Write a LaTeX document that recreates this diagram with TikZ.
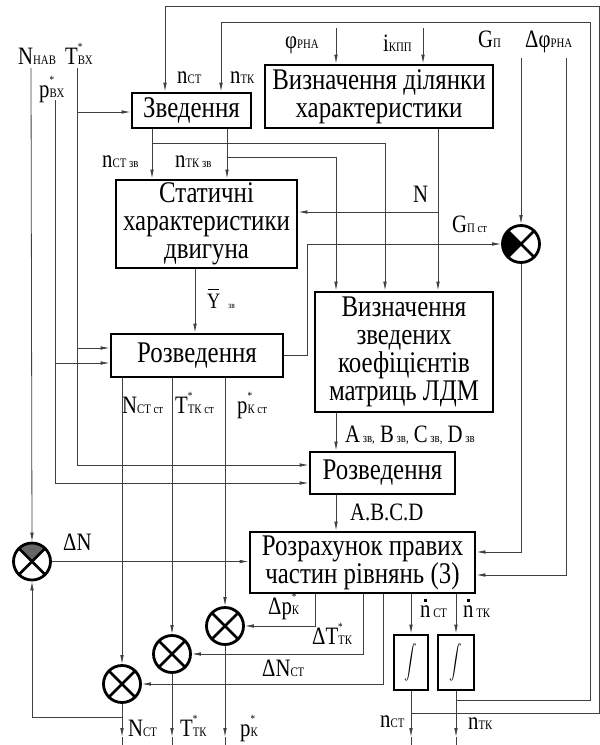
\documentclass[tikz,border=0pt]{standalone}
\usepackage{fontspec}
\setmainfont[FakeStretch=0.83]{Liberation Serif}
\usetikzlibrary{arrows.meta}
\newcommand{\boxfont}{\fontsize{30}{28}\selectfont}
\newcommand{\labfont}{\fontsize{25}{25}\selectfont}
\newcommand{\lsub}[1]{{\fontsize{13}{13}\selectfont#1}}
\newcommand{\lsubst}[1]{\rlap{\raisebox{14pt}{\fontsize{11}{11}\selectfont*}}\lsub{#1}}
\newcommand{\ndot}{\ooalign{n\cr\hidewidth\rule[0.62em]{2.4pt}{2.4pt}\hidewidth\cr}}
\newcommand{\Ybar}{\ooalign{Y\cr\hidewidth\rule[0.8em]{0.5em}{0.05em}\hidewidth\cr}}
\begin{document}
\begin{tikzpicture}[x=1pt,y=-1pt,
  ln/.style={draw=black!75, line width=0.8pt},
  arr/.style={ln,-{Latex[length=9pt,width=3.6pt]}},
  box/.style={draw, line width=2.8pt, align=center, inner sep=0pt, font=\boxfont},
  summ/.style={circle, draw, line width=2.8pt, minimum size=37pt, inner sep=0pt,
    path picture={\draw[line width=2.6pt]
      (path picture bounding box.north west)--(path picture bounding box.south east)
      (path picture bounding box.north east)--(path picture bounding box.south west);}},
  summL/.style={circle, draw, line width=2.8pt, minimum size=37pt, inner sep=0pt,
    path picture={\fill[black] (path picture bounding box.center)--(path picture bounding box.north west)--(path picture bounding box.south west)--cycle;
      \draw[line width=2.6pt]
      (path picture bounding box.north west)--(path picture bounding box.south east)
      (path picture bounding box.north east)--(path picture bounding box.south west);}},
  summT/.style={circle, draw, line width=2.8pt, minimum size=37pt, inner sep=0pt,
    path picture={\fill[black!60] (path picture bounding box.center)--(path picture bounding box.north west)--(path picture bounding box.north east)--cycle;
      \draw[line width=2.6pt]
      (path picture bounding box.north west)--(path picture bounding box.south east)
      (path picture bounding box.north east)--(path picture bounding box.south west);}},
  lab/.style={anchor=base west, inner sep=0pt, font=\labfont},
  intg/.style={box, minimum height=55pt, font=\normalsize}
]
\fill[white] (0,0) rectangle (600,745);
\useasboundingbox (0,0) rectangle (600,745);

% boxes
\node[box, minimum width=119pt, minimum height=35pt] (zv) at (191.5,110.5) {Зведення};
\node[box, minimum width=228pt, minimum height=63pt] (vd) at (379,96.5) {Визначення ділянки\\характеристики};
\node[box, minimum width=181pt, minimum height=88pt] (st) at (206.5,224) {Статичні\\характеристики\\двигуна};
\node[box, minimum width=172pt, minimum height=43pt] (rz1) at (197,355.5) {Розведення};
\node[box, minimum width=178pt, minimum height=120pt] (ldm) at (404,352) {Визначення\\зведених\\коефіцієнтів\\матриць ЛДМ};
\node[box, minimum width=145pt, minimum height=42pt] (rz2) at (382.5,473) {Розведення};
\node[box, minimum width=225pt, minimum height=61pt] (rr) at (362.5,562.5) {Розрахунок правих\\частин рівнянь (3)};
\node[intg, minimum width=34pt] (i1) at (411,662.5) {\scalebox{1.25}[1.7]{$\displaystyle\int$}};
\node[intg, minimum width=36pt] (i2) at (456,662.5) {\scalebox{1.25}[1.7]{$\displaystyle\int$}};

% summators
\node[summT] (sN) at (32,561.5) {};
\node[summL] (sG) at (521,244) {};
\node[summ] (sP) at (225,626) {};
\node[summ] (sT) at (172,654) {};
\node[summ] (sNc) at (122,684) {};

% coordinates
\coordinate (inN) at (31,68);
\coordinate (inT) at (77,68);
\coordinate (inP) at (55,100);
\coordinate (inPhi) at (336,28);
\coordinate (inI) at (423,28);
\coordinate (inG) at (521,58);
\coordinate (inDphi) at (566,58);
\coordinate (tl1) at (165,6);
\coordinate (tl2) at (221,22);

% labels
\node[lab] (lNhab) at (18,64) {N\lsub{НАВ}};
\node[lab] (lTbx) at (65,64) {T\lsubst{ВХ}};
\node[lab] (lpbx) at (39,97) {p\lsubst{ВХ}};
\node[lab] (lnct) at (177,83) {n\lsub{СТ}};
\node[lab] (lntk) at (230,83) {n\lsub{ТК}};
\node[lab] (lphi) at (285,48) {φ\lsub{РНА}};
\node[lab] (likpp) at (383,51) {i\lsub{КПП}};
\node[lab] (lGp) at (478,47) {G\lsub{П}};
\node[lab] (ldphi) at (525,47) {Δφ\lsub{РНА}};
\node[lab] (lnctzv) at (102,167) {n\lsub{СТ зв}};
\node[lab] (lntkzv) at (175,167) {n\lsub{ТК зв}};
\node[lab] (lN) at (413,202) {N};
\node[lab] (lGpst) at (452,232) {G\lsub{П ст}};
\node[lab, font=\fontsize{22}{22}\selectfont] (lY) at (207,308) {\Ybar\hspace{8pt}{\fontsize{9}{9}\selectfont зв}};
\node[lab] (lNctst) at (122,413) {N\lsub{СТ ст}};
\node[lab] (lTtkst) at (175,413) {T\lsubst{ТК ст}};
\node[lab] (lpkst) at (237,413) {p\lsubst{К ст}};
\node[lab] (lABCDzv) at (345,442) {A\lsub{ зв,} B\lsub{ зв,} C\lsub{ зв,} D\lsub{ зв}};
\node[lab] (lABCD) at (350,520) {A.B.C.D};
\node[lab] (lDN) at (63,550) {ΔN};
\node[lab] (lDp) at (268,614) {Δp\lsubst{К}};
\node[lab] (lDT) at (312,644) {ΔT\lsubst{ТК}};
\node[lab] (lDNct) at (262,676) {ΔN\lsub{СТ}};
\node[lab] (lndct) at (420,617) {\ndot\lsub{ СТ}};
\node[lab] (lndtk) at (463,617) {\ndot\lsub{ ТК}};
\node[lab] (lNct) at (128,736) {N\lsub{СТ}};
\node[lab] (lTtk) at (180,736) {T\lsubst{ТК}};
\node[lab] (lpk) at (240,736) {p\lsubst{К}};
\node[lab] (lnctb) at (380,727) {n\lsub{СТ}};
\node[lab] (lntkb) at (468,729) {n\lsub{ТК}};

% inputs left
\draw[arr] (inN) -- (sN.north);
\draw[arr] (inT) -- (inT |- 0,465) -- (rz2.west |- 0,465);
\draw[arr] (inP) -- (inP |- 0,483) -- (rz2.west |- 0,483);
\draw[arr] (inT |- 0,112) -- (zv.west |- 0,112);
\draw[arr] (inT |- 0,348) -- (rz1.west |- 0,348);
\draw[arr] (inP |- 0,363) -- (rz1.west |- 0,363);

% top inputs
\draw[arr] (inPhi) -- (vd.north -| inPhi);
\draw[arr] (inI) -- (vd.north -| inI);
\draw[arr] (inG) -- (sG.north);
\draw[arr] (inDphi) -- (inDphi |- 0,575) -- (rr.east |- 0,575);

% feedback loops
\coordinate (j1) at (i1.south |- 0,713);
\coordinate (j2) at (i2.south |- 0,700);
\draw[arr] (j1) -- (599,713) -- (599,6) -- (tl1) -- (zv.north -| tl1);
\draw[arr] (j2) -- (590,700) -- (590,22) -- (tl2) -- (zv.north -| tl2);

% zvedennia outputs
\draw[arr] (zv.south -| 152,0) -- (st.north -| 152,0);
\draw[arr] (zv.south -| 227,0) -- (st.north -| 227,0);
\draw[arr] (152,143) -- (385,143) -- (ldm.north -| 385,0);
\draw[arr] (227,157) -- (336,157) -- (ldm.north -| 336,0);

% N
\draw[arr] (vd.south -| 438,0) -- (ldm.north -| 438,0);
\draw[arr] (438,212) -- (st.east |- 0,212);

% Y
\draw[arr] (st.south -| 195,0) -- (rz1.north -| 195,0);

% G_P st
\draw[arr] (rz1.east) -- (307,355.5) -- (307,244) -- (sG.west);
\draw[arr] (sG.south) -- (521,552) -- (rr.east |- 0,552);

% LDM chain
\draw[arr] (ldm.south -| 336,0) -- (rz2.north -| 336,0);
\draw[arr] (rz2.south -| 336,0) -- (rr.north -| 336,0);

% rozvedennia 1 outputs
\draw[arr] (sNc.north |- rz1.south) -- (sNc.north);
\draw[arr] (sT.north |- rz1.south) -- (sT.north);
\draw[arr] (sP.north |- rz1.south) -- (sP.north);
\foreach \s in {sNc,sT,sP}{
  \draw[arr] (\s.south) -- (\s.south |- 0,737);
  \draw[ln] (\s.south |- 0,737) -- (\s.south |- 0,745);
}
\draw[arr] (sNc.south |- 0,717) -- (sN.south |- 0,717) -- (sN.south);

% delta N
\draw[arr] (sN.east) -- (rr.west |- sN.east);

% rr outputs
\draw[arr] (rr.south -| 315,0) -- (315,626) -- (sP.east);
\draw[arr] (rr.south -| 363,0) -- (363,654) -- (sT.east);
\draw[arr] (rr.south -| 383,0) -- (383,684) -- (sNc.east);
\draw[arr] (rr.south -| i1.north) -- (i1.north);
\draw[arr] (rr.south -| i2.north) -- (i2.north);
\foreach \s in {i1,i2}{
  \draw[arr] (\s.south) -- (\s.south |- 0,737);
  \draw[ln] (\s.south |- 0,737) -- (\s.south |- 0,745);
}
\end{tikzpicture}
\end{document}
